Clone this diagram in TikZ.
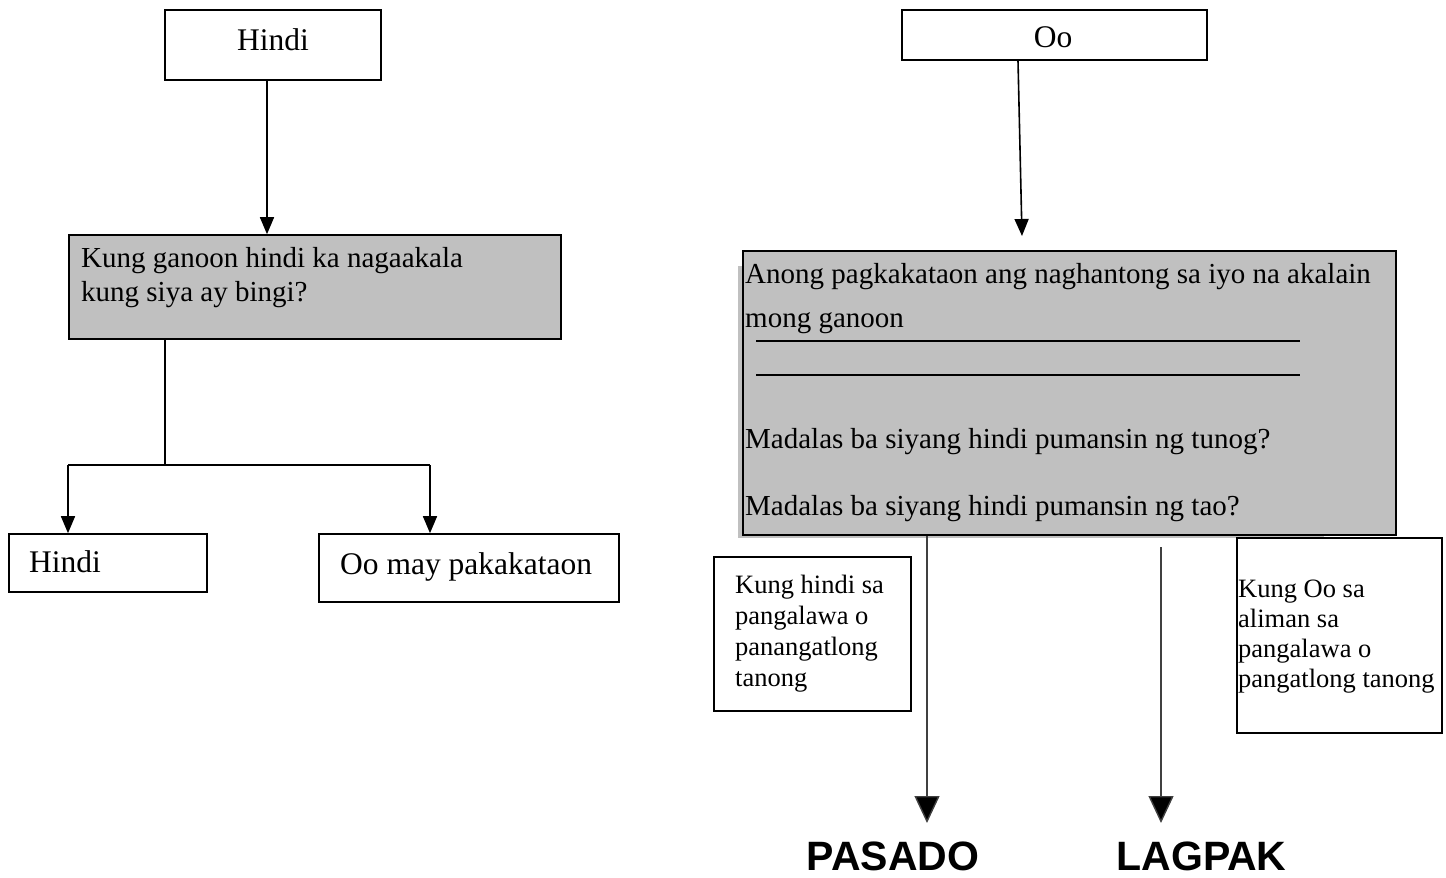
\documentclass[tikz,border=0pt]{standalone}
\usepackage{fontspec}
\setmainfont{Liberation Serif}
\newfontfamily\headfont{Liberation Sans}
\usetikzlibrary{arrows.meta}
\definecolor{boxgray}{HTML}{C0C0C0}
\begin{document}
\begin{tikzpicture}[x=1pt,y=-1pt,
 box/.style={draw, line width=1.6pt, inner sep=0pt},
 gbox/.style={box, fill=boxgray},
 txt/.style={inner sep=0pt, anchor=base west},
 ctxt/.style={inner sep=0pt, anchor=base},
 big/.style={font=\fontsize{31.5}{36}\selectfont},
 mid/.style={font=\fontsize{29}{34}\selectfont},
 small/.style={font=\fontsize{26.5}{30}\selectfont},
 head/.style={inner sep=0pt, anchor=base, font=\headfont\bfseries\fontsize{41}{45}\selectfont},
 conn/.style={line width=1.6pt},
 arr/.style={conn, -{Triangle[width=14pt,length=17pt]}},
 bigarr/.style={line width=1.4pt, draw=black!75, -{Triangle[width=25pt,length=27pt,fill=black]}},
]
\useasboundingbox (0,0) rectangle (1446,878);

% ---------- left side ----------
\node[box, minimum width=216pt, minimum height=70pt] (h1) at (273,45) {};
\node[big, ctxt] (h1t) at (273,50) {Hindi};

\node[gbox, minimum width=492pt, minimum height=104pt] (q1) at (315,287) {};
\node[mid, txt] (q1a) at (81,267) {Kung ganoon hindi ka nagaakala};
\node[mid, txt] (q1b) at (81,301) {kung siya ay bingi?};

\node[box, minimum width=198pt, minimum height=58pt] (b1) at (108,563) {};
\node[big, txt] (b1t) at (29,572) {Hindi};
\node[box, minimum width=300pt, minimum height=68pt] (b2) at (469,568) {};
\node[big, txt] (b2t) at (340,574) {Oo may pakakataon};

\coordinate (c1) at (267,0);
\draw[arr] (h1.south -| c1) -- (q1.north -| c1);
\coordinate (br) at (165,465);
\coordinate (bl) at (68,465);
\coordinate (brr) at (430,465);
\draw[conn] (q1.south -| br) -- (br);
\draw[conn] (bl) -- (brr);
\draw[arr] (bl) -- (b1.north -| bl);
\draw[arr] (brr) -- (b2.north -| brr);

% ---------- right side ----------
\node[box, minimum width=305pt, minimum height=50pt] (oo) at (1054.5,35) {};
\node[big, ctxt] (oot) at (1053,47) {Oo};

\fill[boxgray] (738,266) rectangle (1324,538);
\node[gbox, line width=2pt, minimum width=653pt, minimum height=284pt] (q2) at (1069.5,393) {};
\node[mid, txt] (q2a) at (745,283) {Anong pagkakataon ang naghantong sa iyo na akalain};
\node[mid, txt] (q2b) at (745,327) {mong ganoon};
\draw[conn] (756,341) -- (1300,341);
\draw[conn] (756,375) -- (1300,375);
\node[mid, txt] (q2c) at (745,448) {Madalas ba siyang hindi pumansin ng tunog?};
\node[mid, txt] (q2d) at (745,515) {Madalas ba siyang hindi pumansin ng tao?};

\coordinate (ostart) at (1018,0);
\coordinate (oend) at (1022,236);
\draw[arr] (oo.south -| ostart) -- (oend);

\node[box, minimum width=197pt, minimum height=154pt] (s1) at (812.5,634) {};
\node[small, txt] (s1a) at (735,593) {Kung hindi sa};
\node[small, txt] (s1b) at (735,624) {pangalawa o};
\node[small, txt] (s1c) at (735,655) {panangatlong};
\node[small, txt] (s1d) at (735,686) {tanong};

\node[box, minimum width=205pt, minimum height=195pt] (s2) at (1339.5,635.5) {};
\node[small, txt] (s2a) at (1238,597) {Kung Oo sa};
\node[small, txt] (s2b) at (1238,627) {aliman sa};
\node[small, txt] (s2c) at (1238,657) {pangalawa o};
\node[small, txt] (s2d) at (1238,687) {pangatlong tanong};

\node[head] (pas) at (893,870) {PASADO};
\node[head] (lag) at (1201.5,870) {LAGPAK};

\coordinate (a1) at (927,823);
\draw[bigarr] (q2.south -| a1) -- (a1);
\coordinate (a2s) at (1161,547);
\coordinate (a2) at (1161,823);
\draw[bigarr] (a2s) -- (a2);
\end{tikzpicture}
\end{document}
